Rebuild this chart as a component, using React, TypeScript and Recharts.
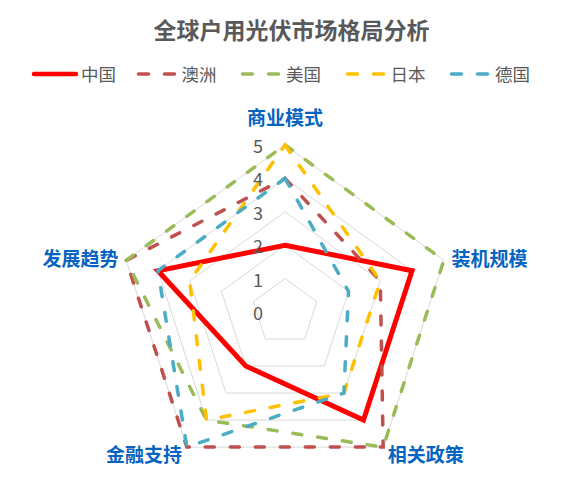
import { RadarChart, Radar, PolarGrid, PolarAngleAxis, PolarRadiusAxis } from 'recharts';

const dimensions = ['商业模式', '装机规模', '相关政策', '金融支持', '发展趋势'];
const china = [2, 4, 4, 2, 4];
const australia = [4, 3, 5, 5, 5];
const usa = [5, 5, 5, 4, 5];
const japan = [5, 3, 3, 4, 3];
const germany = [4, 2, 3, 5, 4];
const radiusTicks = [0, 1, 2, 3, 4, 5];

const series = [
  { key: 'china', name: '中国', values: china, color: '#FF0000', dashed: false },
  { key: 'australia', name: '澳洲', values: australia, color: '#C0504D', dashed: true },
  { key: 'usa', name: '美国', values: usa, color: '#9BBB59', dashed: true },
  { key: 'japan', name: '日本', values: japan, color: '#FFC000', dashed: true },
  { key: 'germany', name: '德国', values: germany, color: '#4BACC6', dashed: true },
];

const data = dimensions.map((d, i) => {
  const row: Record<string, string | number> = { dimension: d };
  series.forEach(s => { row[s.key] = s.values[i]; });
  return row;
});

const FONT = '"Noto Sans CJK SC", "Noto Sans", sans-serif';

function AngleTick({ x, y, payload, textAnchor }: any) {
  const isTop = payload.value === dimensions[0];
  return (
    <text
      x={x}
      y={isTop ? y - 21 : y}
      textAnchor={isTop ? 'middle' : textAnchor}
      dominantBaseline="central"
      fill="#0563C1"
      fontSize={19}
      fontWeight="bold"
      fontFamily={FONT}
    >
      {payload.value}
    </text>
  );
}

function RadiusTick({ x, y, payload }: any) {
  return (
    <text x={x - 27} y={y} textAnchor="middle" dominantBaseline="central" fill="#595959" fontSize={18} fontFamily={FONT}>
      {payload.value}
    </text>
  );
}

function LegendRow() {
  return (
    <div style={{ position: 'absolute', left: 0, top: 63, width: 583, height: 22 }}>
      {series.map((s, i) => (
        <div key={s.key} style={{ position: 'absolute', left: 30 + i * 104.5, top: 0, height: 22, display: 'flex', alignItems: 'center' }}>
          <svg width={s.dashed ? 47 : 51} height={10} style={{ display: 'block' }}>
            {s.dashed ? (
              <line x1={3.5} y1={5} x2={44} y2={5} stroke={s.color} strokeWidth={3.5} strokeDasharray="10 16" strokeLinecap="round" />
            ) : (
              <line x1={4} y1={5} x2={46} y2={5} stroke={s.color} strokeWidth={4.5} strokeLinecap="round" />
            )}
          </svg>
          <span style={{ fontFamily: FONT, fontSize: 17.5, color: '#595959', lineHeight: '22px' }}>{s.name}</span>
        </div>
      ))}
    </div>
  );
}

export default function App() {
  return (
    <div style={{ position: 'absolute', left: 0, top: 0, width: 583, height: 488, background: '#fff' }}>
      <div style={{ position: 'absolute', left: 0, top: 14, width: 583, textAlign: 'center', fontFamily: FONT, fontSize: 23, fontWeight: 'bold', color: '#595959', lineHeight: '30px' }}>
        全球户用光伏市场格局分析
      </div>
      <LegendRow />
      <div style={{ position: 'absolute', left: 0, top: 0 }}>
        <RadarChart width={583} height={488} data={data} cx={285} cy={312} outerRadius={167} startAngle={90} endAngle={-270} margin={{ top: 0, right: 0, bottom: 0, left: 0 }}>
          <PolarGrid gridType="polygon" radialLines={false} stroke="#D9D9D9" strokeWidth={1} />
          <PolarAngleAxis dataKey="dimension" tick={(p: any) => <AngleTick {...p} />} tickLine={false} axisLine={false} />
          <PolarRadiusAxis angle={90} domain={[0, 5]} ticks={radiusTicks as any} tickCount={6} axisLine={false} tickLine={false} tick={(p: any) => <RadiusTick {...p} />} />
          {series.map(s => (
            <Radar
              key={s.key}
              name={s.name}
              dataKey={s.key}
              stroke={s.color}
              strokeWidth={s.dashed ? 3.5 : 5}
              strokeDasharray={s.dashed ? '9 16' : undefined}
              strokeLinecap={s.dashed ? 'round' : 'butt'}
              strokeLinejoin="miter"
              fill="none"
              fillOpacity={0}
              dot={false}
              isAnimationActive={false}
            />
          ))}
        </RadarChart>
      </div>
    </div>
  );
}
